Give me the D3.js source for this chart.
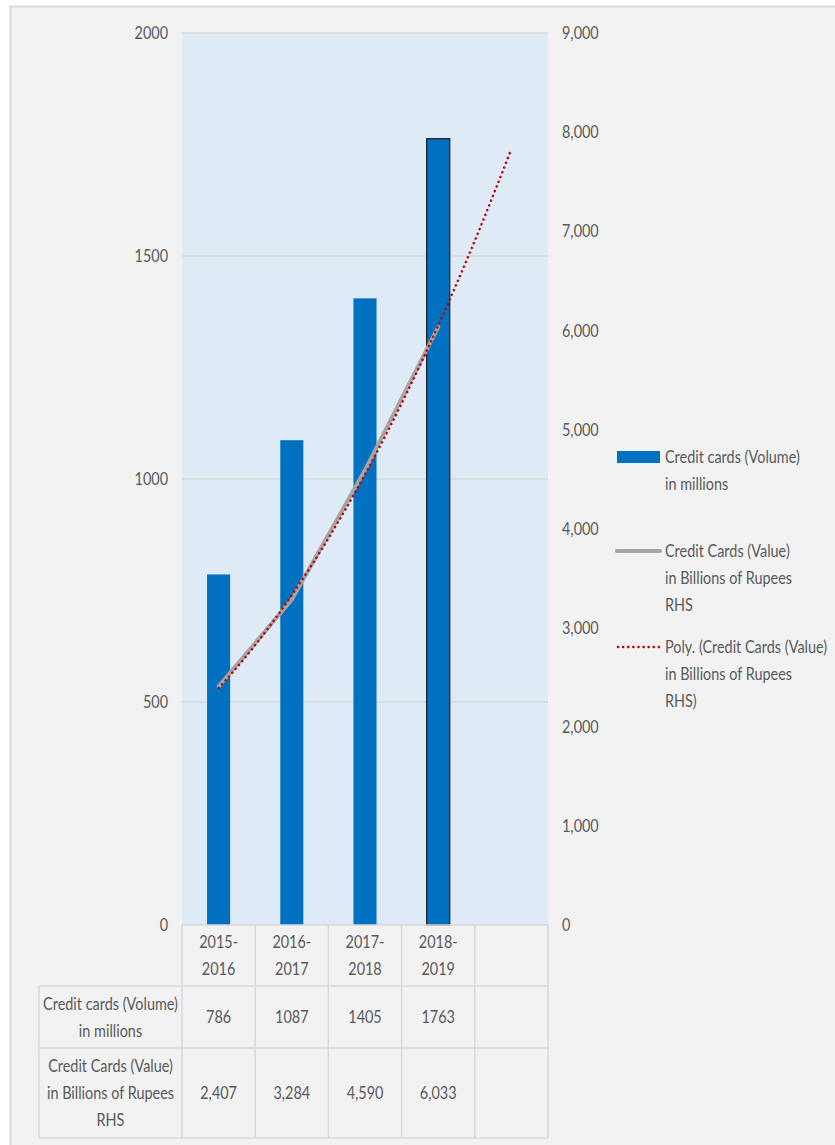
<!DOCTYPE html>
<html><head><meta charset="utf-8">
<script src="https://cdn.jsdelivr.net/npm/d3@7"></script>
<style>
html,body{margin:0;padding:0;background:#fff;}
svg text{font-family:Lato,"Liberation Sans",sans-serif;fill:#595959;}
</style></head><body>
<svg id="c" width="835" height="1145"></svg>
<script>
const categories = ["2015-\n2016","2016-\n2017","2017-\n2018","2018-\n2019",""];
const volume = [786,1087,1405,1763];
const value = [2407,3284,4590,6033];
const leftTicks = [0,500,1000,1500,2000];
const rightTicks = [0,1000,2000,3000,4000,5000,6000,7000,8000,9000];
const seriesNames = [
  ["Credit cards (Volume)","in millions"],
  ["Credit Cards (Value)","in Billions of Rupees","RHS"],
  ["Poly. (Credit Cards (Value)","in Billions of Rupees","RHS)"]
];
const rowLabels = [
  ["Credit cards (Volume)","in millions"],
  ["Credit Cards (Value)","in Billions of Rupees","RHS"]
];
const rowValues = [volume.map(String), value.map(d=>d3.format(",")(d))];

const svg = d3.select("#c");
const fs = 18;
svg.append("rect").attr("x",10.5).attr("y",6.5).attr("width",840).attr("height",1150)
  .attr("fill","#f2f2f2").attr("stroke","#d9d9d9").attr("stroke-width",2);

const X0=182, X1=548, Y0=33, Y1=925;
const x = d3.scaleBand().domain(d3.range(categories.length)).range([X0,X1]).paddingInner(0.685).paddingOuter(0.3425);
const slot = d3.scaleBand().domain(d3.range(categories.length)).range([X0,X1]);
const yL = d3.scaleLinear().domain([0,2000]).range([Y1,Y0]);
const yR = d3.scaleLinear().domain([0,9000]).range([Y1,Y0]);

svg.append("rect").attr("x",X0).attr("y",Y0).attr("width",X1-X0).attr("height",Y1-Y0).attr("fill","#deeaf6");

svg.append("g").selectAll("line").data(leftTicks.slice(1)).join("line")
  .attr("x1",X0).attr("x2",X1).attr("y1",d=>yL(d)).attr("y2",d=>yL(d))
  .attr("stroke","#d9d9d9").attr("stroke-width",1.5);

const gl = svg.append("g").attr("transform",`translate(${X0},0)`)
  .call(d3.axisLeft(yL).tickValues(leftTicks).tickSize(0).tickPadding(14).tickFormat(d3.format("d")));
gl.select(".domain").remove();
gl.attr("font-family",null).attr("font-size",null);
gl.selectAll("text").attr("font-size",fs).attr("fill","#595959");

const gr = svg.append("g").attr("transform",`translate(${X1},0)`)
  .call(d3.axisRight(yR).tickValues(rightTicks).tickSize(0).tickPadding(14).tickFormat(d3.format(",")));
gr.select(".domain").remove();
gr.attr("font-family",null).attr("font-size",null);
gr.selectAll("text").attr("font-size",fs).attr("fill","#595959");

svg.append("g").selectAll("rect").data(volume).join("rect")
  .attr("x",(d,i)=>x(i)).attr("width",x.bandwidth())
  .attr("y",d=>yL(d)).attr("height",d=>Y1-yL(d))
  .attr("fill","#0070c0")
  .attr("stroke",(d,i)=>i===volume.length-1?"#1a1a1a":"none").attr("stroke-width",1.2);

const cx = i => slot(i)+slot.bandwidth()/2;
svg.append("path").datum(value)
  .attr("d",d3.line().x((d,i)=>cx(i)).y(d=>yR(d)))
  .attr("fill","none").attr("stroke","#a5a5a5").attr("stroke-width",4).attr("stroke-linecap","round");

// polynomial (order 2) trendline, forecast forward 1 period
const n=value.length, xs=d3.range(1,n+1), xm=d3.mean(xs);
const p1=xs.map(v=>v-xm), p2c=d3.mean(p1.map(v=>v*v)), p2=p1.map(v=>v*v-p2c);
const ym=d3.mean(value);
const b1=d3.sum(p1.map((v,i)=>v*value[i]))/d3.sum(p1.map(v=>v*v));
const b2=d3.sum(p2.map((v,i)=>v*value[i]))/d3.sum(p2.map(v=>v*v));
const poly = t => ym + b1*(t-xm) + b2*((t-xm)*(t-xm)-p2c);
const tpts = d3.range(1, n+1+0.001, 0.05).map(t=>[X0+slot.bandwidth()*(t-0.5), yR(poly(t))]);
svg.append("path").datum(tpts).attr("d",d3.line())
  .attr("fill","none").attr("stroke","#c00000").attr("stroke-width",2.5)
  .attr("stroke-dasharray","0.1 5").attr("stroke-linecap","round");

const lg = svg.append("g");
const lx=617, lw=43, tx=665, lh=27;
const ly=[457,551,647];
lg.append("rect").attr("x",lx).attr("y",ly[0]-6).attr("width",lw).attr("height",12).attr("fill","#0070c0");
lg.append("line").attr("x1",lx).attr("x2",lx+lw).attr("y1",ly[1]).attr("y2",ly[1]).attr("stroke","#a5a5a5").attr("stroke-width",4).attr("stroke-linecap","round");
lg.append("line").attr("x1",lx+1).attr("x2",lx+lw).attr("y1",ly[2]).attr("y2",ly[2]).attr("stroke","#c00000").attr("stroke-width",2.5).attr("stroke-dasharray","0.1 5").attr("stroke-linecap","round");
let probe=null;
seriesNames.forEach((lines,k)=>{
  lines.forEach((s,j)=>{
    const t=lg.append("text").attr("x",tx).attr("y",ly[k]+j*lh).attr("dy","0.35em").attr("font-size",fs).text(s);
    if(k===0&&j===0) probe=t;
  });
});

const tg = svg.append("g");
const rowsY=[Y1,986,1048,1138], TL=39;
const bcol="#d9d9d9";
d3.range(categories.length+1).forEach(i=>{
  const xx = i<categories.length? slot(i): X1;
  tg.append("line").attr("x1",xx).attr("x2",xx).attr("y1",Y1).attr("y2",rowsY[3]).attr("stroke",bcol).attr("stroke-width",1.5);
});
tg.append("line").attr("x1",TL).attr("x2",TL).attr("y1",rowsY[1]).attr("y2",rowsY[3]).attr("stroke",bcol).attr("stroke-width",1.5);
tg.append("line").attr("x1",X0).attr("x2",X1).attr("y1",Y1).attr("y2",Y1).attr("stroke",bcol).attr("stroke-width",1.5);
[1,2,3].forEach(r=>tg.append("line").attr("x1",TL).attr("x2",X1).attr("y1",rowsY[r]).attr("y2",rowsY[r]).attr("stroke",bcol).attr("stroke-width",1.5));
categories.forEach((c,i)=>{
  c.split("\n").filter(s=>s).forEach((s,j)=>tg.append("text").attr("x",cx(i)).attr("y",942+j*27).attr("dy","0.35em").attr("text-anchor","middle").attr("font-size",fs).text(s));
});
rowLabels.forEach((lines,r)=>{
  const top=rowsY[r+1], bot=rowsY[r+2], mid=(top+bot)/2;
  lines.forEach((s,j)=>tg.append("text").attr("x",(TL+X0)/2).attr("y",mid+(j-(lines.length-1)/2)*27).attr("dy","0.35em").attr("text-anchor","middle").attr("font-size",fs).text(s));
  rowValues[r].forEach((v,i)=>tg.append("text").attr("x",cx(i)).attr("y",mid).attr("dy","0.35em").attr("text-anchor","middle").attr("font-size",fs).text(v));
});

// condense all text horizontally to mimic the narrow original typeface
const targetW = 135;
const sx = Math.min(1, targetW / probe.node().getComputedTextLength());
svg.selectAll("text").each(function(){
  const t=d3.select(this);
  const tx0=+(t.attr("x")||0), ty0=+(t.attr("y")||0);
  t.attr("x",0).attr("y",0).attr("transform",`translate(${tx0},${ty0}) scale(${sx},1)`);
});
</script></body></html>
